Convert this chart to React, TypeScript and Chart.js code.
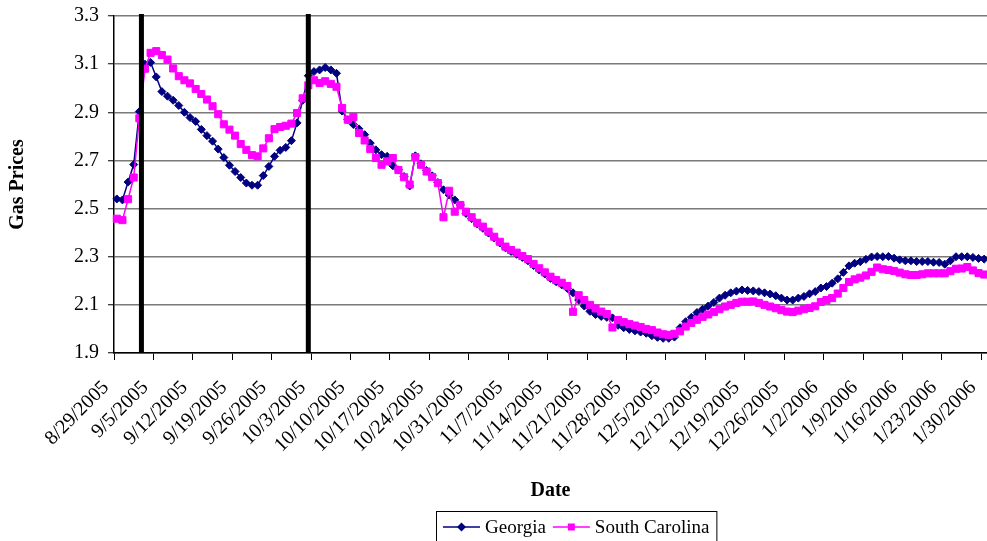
import { useEffect, useRef } from 'react';
import { Chart, registerables } from 'chart.js';

Chart.register(...registerables);

// Daily average regular gas price, $/gallon, starting 8/29/2005
const georgia = [
  2.54, 2.536, 2.61, 2.683, 2.903, 3.1, 3.107, 3.047, 2.986, 2.967,
  2.95, 2.928, 2.9, 2.878, 2.862, 2.829, 2.803, 2.78, 2.747, 2.712,
  2.68, 2.654, 2.629, 2.606, 2.597, 2.597, 2.637, 2.675, 2.717, 2.742,
  2.754, 2.782, 2.856, 2.95, 3.052, 3.069, 3.076, 3.086, 3.076, 3.062,
  2.905, 2.869, 2.849, 2.831, 2.807, 2.772, 2.744, 2.724, 2.717, 2.678,
  2.661, 2.633, 2.594, 2.719, 2.686, 2.658, 2.636, 2.608, 2.578, 2.556,
  2.536, 2.515, 2.48, 2.458, 2.436, 2.418, 2.398, 2.378, 2.357, 2.337,
  2.322, 2.31, 2.297, 2.283, 2.263, 2.245, 2.228, 2.21, 2.196, 2.183,
  2.168, 2.15, 2.12, 2.095, 2.073, 2.06, 2.052, 2.048, 2.046, 2.015,
  2.005, 1.998, 1.992, 1.987, 1.982, 1.972, 1.965, 1.961, 1.961, 1.966,
  2.005, 2.03, 2.048, 2.068, 2.082, 2.095, 2.11, 2.128, 2.14, 2.15,
  2.157, 2.162, 2.16, 2.158, 2.155, 2.15, 2.145, 2.138, 2.128, 2.12,
  2.12, 2.128, 2.135, 2.146, 2.155, 2.17, 2.176, 2.19, 2.208, 2.235,
  2.262, 2.273, 2.279, 2.289, 2.299, 2.301, 2.3, 2.301, 2.294, 2.287,
  2.283, 2.283, 2.28, 2.28, 2.28, 2.277, 2.276, 2.269, 2.283, 2.3,
  2.3, 2.3, 2.297, 2.293, 2.29,
];

const southCarolina = [
  2.458, 2.452, 2.539, 2.629, 2.875, 3.081, 3.147, 3.154, 3.138, 3.119,
  3.082, 3.05, 3.033, 3.02, 2.997, 2.976, 2.953, 2.925, 2.892, 2.85,
  2.828, 2.803, 2.768, 2.744, 2.722, 2.717, 2.75, 2.792, 2.83, 2.839,
  2.844, 2.853, 2.897, 2.958, 3.012, 3.033, 3.022, 3.029, 3.018, 3.006,
  2.918, 2.869, 2.881, 2.814, 2.783, 2.747, 2.71, 2.682, 2.696, 2.71,
  2.66, 2.63, 2.6, 2.714, 2.682, 2.654, 2.631, 2.606, 2.464, 2.574,
  2.487, 2.515, 2.487, 2.464, 2.441, 2.425, 2.404, 2.383, 2.362, 2.342,
  2.328, 2.317, 2.303, 2.29, 2.27, 2.252, 2.235, 2.217, 2.203, 2.192,
  2.178, 2.071, 2.14, 2.12, 2.1, 2.085, 2.072, 2.062, 2.006, 2.037,
  2.028, 2.02, 2.014, 2.008, 2.0, 1.995, 1.985, 1.978, 1.975, 1.98,
  1.99, 2.01, 2.025, 2.038, 2.05, 2.06, 2.07, 2.082, 2.093, 2.1,
  2.108, 2.113, 2.113, 2.114, 2.108, 2.1, 2.093, 2.086, 2.078, 2.072,
  2.07, 2.076, 2.082, 2.087, 2.094, 2.112, 2.12, 2.128, 2.147, 2.17,
  2.195, 2.206, 2.213, 2.222, 2.237, 2.255, 2.248, 2.245, 2.241, 2.234,
  2.227, 2.224, 2.224, 2.227, 2.231, 2.231, 2.231, 2.231, 2.24, 2.25,
  2.251, 2.257, 2.243, 2.232, 2.226,
];

// First date of the series (year, zero-based month, day)
const firstDate = [2005, 7, 29];
// A labelled tick every week
const tickEvery = 7;
// Event markers, in days after the first date
const eventDays = [4.37, 34];

const yMin = 1.9;
const yMax = 3.3;
const yStep = 0.2;

const seriesNames = ['Georgia', 'South Carolina'];
const seriesColors = ['#000080', '#FF00FF'];

const dates = georgia.map((_, i) => {
  const d = new Date(Date.UTC(firstDate[0], firstDate[1], firstDate[2] + i));
  return `${d.getUTCMonth() + 1}/${d.getUTCDate()}/${d.getUTCFullYear()}`;
});

const SERIF = '"Liberation Serif", "Times New Roman", serif';

function drawMarker(ctx: CanvasRenderingContext2D, kind: string, x: number, y: number, color: string) {
  ctx.fillStyle = color;
  ctx.beginPath();
  if (kind === 'diamond') {
    ctx.moveTo(x, y - 4.5);
    ctx.lineTo(x + 4.5, y);
    ctx.lineTo(x, y + 4.5);
    ctx.lineTo(x - 4.5, y);
    ctx.closePath();
  } else {
    ctx.rect(x - 3.5, y - 3.5, 7, 7);
  }
  ctx.fill();
}

// Thick vertical bars marking the two events
const eventLinesPlugin = {
  id: 'eventLines',
  afterDatasetsDraw(chart: any) {
    const { ctx, chartArea, scales } = chart;
    ctx.save();
    ctx.strokeStyle = '#000';
    ctx.lineWidth = 5;
    eventDays.forEach((d) => {
      const x = scales.x.getPixelForValue(d);
      ctx.beginPath();
      ctx.moveTo(x, chartArea.top - 2);
      ctx.lineTo(x, chartArea.bottom);
      ctx.stroke();
    });
    ctx.restore();
  },
};

// Framed legend with line-and-marker symbols
const boxedLegendPlugin = {
  id: 'boxedLegend',
  afterDraw(chart: any) {
    const { ctx } = chart;
    const kinds = ['diamond', 'square'];
    ctx.save();
    ctx.font = `19px ${SERIF}`;
    const pad = 7;
    const lineLen = 37;
    const textGap = 5;
    const widths = seriesNames.map((n) => ctx.measureText(n).width);
    const total = pad + widths.reduce((s, w) => s + lineLen + textGap + w + pad, 0);
    const left = 436;
    const top = 511;
    const midY = 527;
    ctx.strokeStyle = '#000';
    ctx.lineWidth = 1;
    ctx.strokeRect(left + 0.5, top + 0.5, total, 40);
    let x = left + pad;
    seriesNames.forEach((name, i) => {
      ctx.strokeStyle = seriesColors[i];
      ctx.lineWidth = 1.5;
      ctx.beginPath();
      ctx.moveTo(x, midY);
      ctx.lineTo(x + lineLen, midY);
      ctx.stroke();
      drawMarker(ctx, kinds[i], x + lineLen / 2, midY, seriesColors[i]);
      x += lineLen + textGap;
      ctx.fillStyle = '#000';
      ctx.textAlign = 'left';
      ctx.textBaseline = 'middle';
      ctx.fillText(name, x, midY + 1);
      x += widths[i] + pad;
    });
    ctx.restore();
  },
};

export default function App() {
  const canvasRef = useRef<HTMLCanvasElement | null>(null);

  useEffect(() => {
    if (!canvasRef.current) return;
    const chart = new Chart(canvasRef.current, {
      type: 'line',
      data: {
        labels: dates,
        datasets: [
          {
            label: seriesNames[0],
            data: georgia,
            borderColor: seriesColors[0],
            backgroundColor: seriesColors[0],
            borderWidth: 1.5,
            pointStyle: 'rectRot',
            pointRadius: 4,
            pointBorderWidth: 1,
            tension: 0,
            order: 1,
          },
          {
            label: seriesNames[1],
            data: southCarolina,
            borderColor: seriesColors[1],
            backgroundColor: seriesColors[1],
            borderWidth: 1.5,
            pointStyle: 'rect',
            pointRadius: 5,
            pointBorderWidth: 1,
            tension: 0,
            order: 0,
          },
        ],
      },
      options: {
        animation: false,
        responsive: true,
        maintainAspectRatio: false,
        layout: { autoPadding: false, padding: { top: 16, right: 0, bottom: 38, left: 0 } },
        plugins: {
          legend: { display: false },
          tooltip: { enabled: false },
        },
        scales: {
          x: {
            type: 'category',
            offset: true,
            afterFit(scale: any) {
              scale.height = 150;
              scale.paddingLeft = 0;
              scale.paddingRight = 0;
            },
            grid: {
              offset: true,
              drawOnChartArea: false,
              drawTicks: true,
              tickLength: 7,
              tickWidth: 1,
              tickColor: (c: any) =>
                c.index !== undefined && c.index < dates.length && c.index % tickEvery === 0
                  ? '#000'
                  : 'rgba(0,0,0,0)',
            },
            border: { display: true, color: '#000', width: 1.5 },
            ticks: {
              autoSkip: false,
              minRotation: 45,
              maxRotation: 45,
              padding: 16,
              labelOffset: -11,
              color: '#000',
              font: { family: SERIF, size: 20 },
              callback(value: any, index: number) {
                return index % tickEvery === 0 ? dates[index] : '';
              },
            },
            title: {
              display: true,
              text: 'Date',
              color: '#000',
              font: { family: SERIF, size: 20, weight: 'bold' },
              padding: { top: 2, bottom: 0 },
            },
          },
          y: {
            min: yMin,
            max: yMax,
            afterFit(scale: any) {
              scale.width = 114;
              scale.paddingTop = 0;
              scale.paddingBottom = 0;
            },
            ticks: {
              stepSize: yStep,
              padding: 9,
              color: '#000',
              font: { family: SERIF, size: 20 },
              callback: (v: any) => Number(v).toFixed(1),
            },
            grid: {
              color: '#7a7a7a',
              lineWidth: 1.5,
              tickLength: 6,
              tickColor: '#000',
              tickWidth: 1,
            },
            border: { display: true, color: '#000', width: 1.5 },
            title: {
              display: true,
              text: 'Gas Prices',
              color: '#000',
              font: { family: SERIF, size: 20, weight: 'bold' },
              padding: { top: 6, bottom: 0 },
            },
          },
        },
      },
      plugins: [eventLinesPlugin, boxedLegendPlugin],
    } as any);
    return () => chart.destroy();
  }, []);

  return (
    <div style={{ position: 'fixed', left: 0, top: 0, width: 987, height: 541, background: '#fff' }}>
      <canvas ref={canvasRef} />
    </div>
  );
}
